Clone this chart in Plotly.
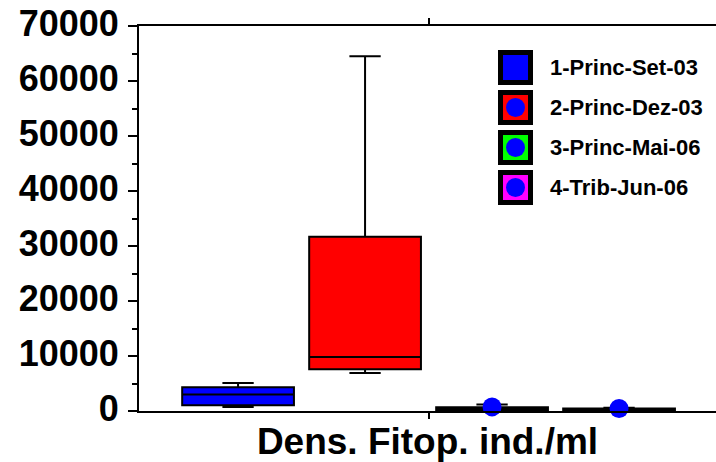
import plotly.graph_objects as go

# ---- data ----
series_names = ["1-Princ-Set-03", "2-Princ-Dez-03", "3-Princ-Mai-06", "4-Trib-Jun-06"]
positions = [1, 2, 3, 4]
lower_fence = [730, 6900, 100, 50]
q1_vals = [1040, 7600, 150, 100]
medians = [2980, 9830, 400, 300]
q3_vals = [4310, 31700, 700, 450]
upper_fence = [5090, 64500, 1200, 600]
fill_colors = ["#0000FF", "#FF0000", "#00FF00", "#FF00FF"]
dot_x = [3, 4]
dot_y = [750, 450]
x_title = "Dens. Fitop. ind./ml"
y_ticks = [0, 10000, 20000, 30000, 40000, 50000, 60000, 70000]

W, H = 716, 462
ML, MR, MT, MB = 139, 0, 26, 51
PW = W - ML - MR
PH = H - MT - MB

FONT = "Liberation Sans, Arial, sans-serif"

fig = go.Figure()
for i in range(4):
    fig.add_trace(go.Box(
        x=[positions[i]], q1=[q1_vals[i]], median=[medians[i]], q3=[q3_vals[i]],
        lowerfence=[lower_fence[i]], upperfence=[upper_fence[i]],
        width=0.88, whiskerwidth=0.28,
        fillcolor=fill_colors[i], line=dict(color="black", width=2),
        name=series_names[i], showlegend=False, boxpoints=False,
    ))

fig.add_trace(go.Scatter(
    x=dot_x, y=dot_y, mode="markers",
    marker=dict(color="#0000FF", size=19, line=dict(width=0)),
    cliponaxis=False, showlegend=False,
))

# ---- manual legend (pixel -> paper coords) ----
def px(xp):
    return (xp - ML) / PW

def py(yp):
    return (MT + PH - yp) / PH

shapes = []
annotations = []
for i, name in enumerate(series_names):
    top = 50 + 40 * i
    shapes.append(dict(type="rect", xref="paper", yref="paper",
                       x0=px(498), x1=px(533), y0=py(top + 35), y1=py(top),
                       fillcolor="black", line=dict(width=0)))
    shapes.append(dict(type="rect", xref="paper", yref="paper",
                       x0=px(503), x1=px(528), y0=py(top + 30), y1=py(top + 5),
                       fillcolor=fill_colors[i], line=dict(width=0)))
    shapes.append(dict(type="circle", xref="paper", yref="paper",
                       x0=px(506), x1=px(525), y0=py(top + 27), y1=py(top + 8),
                       fillcolor="#0000FF", line=dict(width=0)))
    annotations.append(dict(xref="paper", yref="paper", x=px(548), y=py(top + 17.5),
                            xanchor="left", yanchor="middle", showarrow=False,
                            text=name,
                            font=dict(family=FONT, size=22, color="black", weight="bold")))

fig.update_layout(
    width=W, height=H,
    margin=dict(l=ML, r=MR, t=MT, b=MB),
    template="none",
    paper_bgcolor="white", plot_bgcolor="white",
    shapes=shapes, annotations=annotations,
    showlegend=False,
)
fig.update_xaxes(
    range=[0.22, 0.22 + PW / 127.0],
    tickvals=[2.5], ticktext=[""],
    ticks="outside", ticklen=6, tickwidth=2, tickcolor="black",
    showline=True, linecolor="black", linewidth=2, mirror="ticks",
    showgrid=False, zeroline=False,
    title=dict(text=x_title, standoff=17,
               font=dict(family=FONT, size=37, color="black", weight="bold")),
)
fig.update_yaxes(
    range=[0, 70000],
    tickvals=y_ticks, ticktext=[str(v) for v in y_ticks],
    ticks="outside", ticklen=9, tickwidth=2, tickcolor="black",
    minor=dict(dtick=5000, ticks="outside", ticklen=5, tickwidth=2, tickcolor="black", showgrid=False),
    showline=True, linecolor="black", linewidth=2,
    showgrid=False, zeroline=False,
    ticklabelstandoff=2,
    ticklabelshift=-3,
    tickfont=dict(family=FONT, size=36, color="black", weight="bold"),
)

fig.write_html("out.html")
